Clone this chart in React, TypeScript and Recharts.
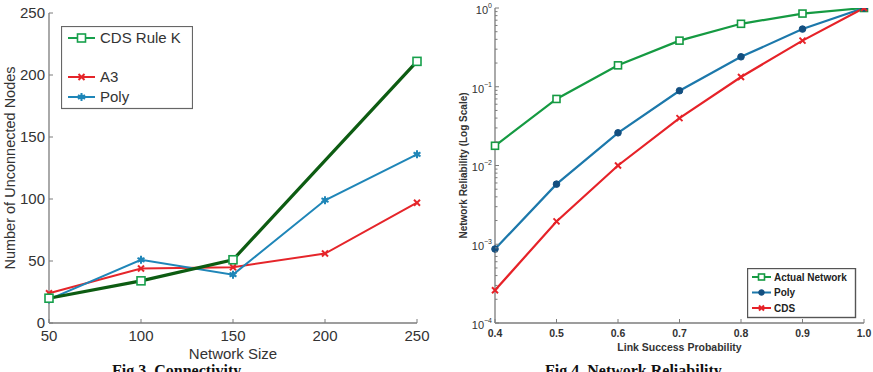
import React from 'react';
import { LineChart, Line, XAxis, YAxis, Legend } from 'recharts';

// ---- Fig 3: connectivity ----
const networkSizes = [50, 100, 150, 200, 250];
const cdsRuleK = [20, 34, 51, null, 211];
const a3 = [24, 44, 45, 56, 97];
const polyUnconnected = [19, 51, 39, 99, 136];
const sizeTicks = [50, 100, 150, 200, 250];
const nodeTicks = [0, 50, 100, 150, 200, 250];

// ---- Fig 4: network reliability ----
const linkProbabilities = [0.4, 0.5, 0.6, 0.7, 0.8, 0.9, 1.0];
const actualNetwork = [0.0178, 0.07, 0.187, 0.385, 0.63, 0.85, 1];
const polyReliability = [0.00087, 0.0058, 0.026, 0.089, 0.24, 0.54, 1];
const cdsReliability = [0.00026, 0.00195, 0.01, 0.04, 0.133, 0.385, 1];
const probTicks = [0.4, 0.5, 0.6, 0.7, 0.8, 0.9, 1.0];
const decadeTicks = [1e-4, 1e-3, 1e-2, 1e-1, 1];

const connectivityRows = networkSizes.map((size, i) => ({
  size,
  cds: cdsRuleK[i],
  a3: a3[i],
  poly: polyUnconnected[i],
}));

const reliabilityRows = linkProbabilities.map((p, i) => ({
  p,
  actual: actualNetwork[i],
  poly: polyReliability[i],
  cds: cdsReliability[i],
}));

const minorTicks = decadeTicks
  .filter((d) => d < 1)
  .flatMap((d) => [2, 3, 4, 5, 6, 7, 8, 9].map((m) => d * m));
const logTicks = [...decadeTicks, ...minorTicks].sort((a, b) => a - b);

const SANS = '"Liberation Sans", Arial, Helvetica, sans-serif';
const AXIS = '#7c7c7c';

const GREEN = '#17a04c';
const DARK_GREEN = '#0d5c12';
const RED = '#e5252a';
const BLUE = '#1f86b8';

const R_GREEN = '#159a42';
const R_BLUE = '#1c78ab';
const R_BLUE_DOT = '#134f80';
const R_RED = '#e62228';

// ---- markers ----
const squareMark = (cx: number, cy: number, color: string, s: number, key?: any) => (
  <rect key={key} x={cx - s / 2} y={cy - s / 2} width={s} height={s} fill="#fff" stroke={color} strokeWidth={1.6} />
);
const crossMark = (cx: number, cy: number, color: string, s: number, key?: any) => (
  <g key={key} stroke={color} strokeWidth={2}>
    <line x1={cx - s} y1={cy - s} x2={cx + s} y2={cy + s} />
    <line x1={cx - s} y1={cy + s} x2={cx + s} y2={cy - s} />
  </g>
);
const starMark = (cx: number, cy: number, color: string, s: number, key?: any) => (
  <g key={key} stroke={color} strokeWidth={2}>
    <circle cx={cx} cy={cy} r={s * 0.6} fill={color} stroke="none" />
    <line x1={cx} y1={cy - s} x2={cx} y2={cy + s} />
    <line x1={cx - s * 0.87} y1={cy - s / 2} x2={cx + s * 0.87} y2={cy + s / 2} />
    <line x1={cx - s * 0.87} y1={cy + s / 2} x2={cx + s * 0.87} y2={cy - s / 2} />
  </g>
);
const circleMark = (cx: number, cy: number, color: string, s: number, key?: any) => (
  <circle key={key} cx={cx} cy={cy} r={s} fill={color} stroke={color} />
);

const dotOf = (mark: any, color: string, s: number) => (props: any) => {
  const { cx, cy, index } = props;
  if (cx == null || cy == null || props.value == null) return <g key={`e-${index}`} />;
  return mark(cx, cy, color, s, `m-${index}`);
};

// ---- ticks (drawn inward, MATLAB style) ----
const fig3LeftTick = (props: any) => {
  const { x, y, payload } = props;
  return (
    <g>
      <line x1={x} x2={x + 4} y1={y} y2={y} stroke={AXIS} />
      <text x={x - 4} y={y} dy="0.36em" textAnchor="end" fontFamily={SANS} fontSize={15} fill="#333">
        {payload.value}
      </text>
    </g>
  );
};
const fig3BottomTick = (props: any) => {
  const { x, y, payload } = props;
  return (
    <g>
      <line x1={x} x2={x} y1={y} y2={y - 4} stroke={AXIS} />
      <text x={x} y={y + 13} dy="0.36em" textAnchor="middle" fontFamily={SANS} fontSize={15} fill="#333">
        {payload.value}
      </text>
    </g>
  );
};
const topTick = (props: any) => {
  const { x, y } = props;
  return <line x1={x} x2={x} y1={y} y2={y + 4} stroke={AXIS} />;
};
const rightTick = (props: any) => {
  const { x, y } = props;
  return <line x1={x} x2={x - 4} y1={y} y2={y} stroke={AXIS} />;
};

const isDecade = (v: number) => Math.abs(Math.log10(v) - Math.round(Math.log10(v))) < 1e-6;

const fig4LeftTick = (props: any) => {
  const { x, y, payload } = props;
  const v = payload.value as number;
  const major = isDecade(v);
  const exp = Math.round(Math.log10(v));
  return (
    <g>
      <line x1={x} x2={x + (major ? 4 : 2.5)} y1={y} y2={y} stroke={AXIS} />
      {major && (
        <text x={x - 3} y={y + 2} dy="0.36em" textAnchor="end" fontFamily={SANS} fontSize={11} fill="#333">
          <tspan>10</tspan>
          <tspan dy={-6} fontSize={7}>{exp === 0 ? '0' : `\u2212${Math.abs(exp)}`}</tspan>
        </text>
      )}
    </g>
  );
};
const fig4RightTick = (props: any) => {
  const { x, y, payload } = props;
  const major = isDecade(payload.value);
  return <line x1={x} x2={x - (major ? 4 : 2.5)} y1={y} y2={y} stroke={AXIS} />;
};
const fig4BottomTick = (props: any) => {
  const { x, y, payload } = props;
  return (
    <g>
      <line x1={x} x2={x} y1={y} y2={y - 4} stroke={AXIS} />
      <text x={x} y={y + 10} dy="0.36em" textAnchor="middle" fontFamily={SANS} fontSize={10.5} fontWeight="bold" fill="#333">
        {(payload.value as number).toFixed(1)}
      </text>
    </g>
  );
};

// ---- legends ----
const fig3Series = [
  { name: 'CDS Rule K', color: GREEN, mark: squareMark, s: 8, y: 12 },
  { name: 'A3', color: RED, mark: crossMark, s: 3, y: 51 },
  { name: 'Poly', color: BLUE, mark: starMark, s: 4, y: 71 },
];
const Fig3Legend = () => (
  <svg width={132} height={84} style={{ display: 'block' }}>
    <rect x={0.5} y={0.5} width={131} height={82} fill="#fff" stroke="#666" strokeWidth={1.2} />
    {fig3Series.map((s) => (
      <g key={s.name}>
        <line x1={7} x2={34} y1={s.y} y2={s.y} stroke={s.color} strokeWidth={2} />
        {s.mark(20.5, s.y, s.color, s.s)}
        <text x={39} y={s.y} dy="0.36em" fontFamily={SANS} fontSize={15} fill="#333">
          {s.name}
        </text>
      </g>
    ))}
  </svg>
);

const fig4Series = [
  { name: 'Actual Network', color: R_GREEN, mark: squareMark, s: 6, markColor: R_GREEN, y: 9 },
  { name: 'Poly', color: R_BLUE, mark: circleMark, s: 2.8, markColor: R_BLUE_DOT, y: 24.5 },
  { name: 'CDS', color: R_RED, mark: crossMark, s: 2.5, markColor: R_RED, y: 40 },
];
const Fig4Legend = () => (
  <svg width={110} height={51} style={{ display: 'block' }}>
    <rect x={0.5} y={0.5} width={108} height={49} fill="#fff" stroke="#555" strokeWidth={1.4} />
    {fig4Series.map((s) => (
      <g key={s.name}>
        <line x1={5} x2={24} y1={s.y} y2={s.y} stroke={s.color} strokeWidth={2} />
        {s.mark(14.5, s.y, s.markColor, s.s)}
        <text x={27} y={s.y} dy="0.36em" fontFamily={SANS} fontSize={10} fontWeight="bold" fill="#222">
          {s.name}
        </text>
      </g>
    ))}
  </svg>
);

const captionStyle: React.CSSProperties = {
  position: 'absolute',
  top: 363,
  fontFamily: '"Liberation Serif", "Times New Roman", serif',
  fontWeight: 'bold',
  fontSize: 16,
  lineHeight: '16px',
  whiteSpace: 'nowrap',
  color: '#111',
};

export default function App() {
  return (
    <div
      style={{
        position: 'absolute',
        left: 0,
        top: 0,
        width: 873,
        height: 372,
        overflow: 'hidden',
        background: '#fff',
      }}
    >
      {/* Fig 3: unconnected nodes versus network size */}
      <div style={{ position: 'absolute', left: 0, top: 0 }}>
        <LineChart width={440} height={372} data={connectivityRows} margin={{ top: 13, right: 23, bottom: 0, left: 0 }}>
          <XAxis
            dataKey="size"
            type="number"
            domain={[50, 250]}
            ticks={sizeTicks}
            interval={0}
            height={49}
            tickSize={0}
            tickMargin={0}
            tickLine={false}
            tick={fig3BottomTick}
            axisLine={{ stroke: AXIS, strokeWidth: 1.3 }}
            label={{ value: 'Network Size', position: 'insideBottom', offset: 13, fontFamily: SANS, fontSize: 15, fill: '#333' }}
          />
          <XAxis
            xAxisId="top"
            orientation="top"
            dataKey="size"
            type="number"
            domain={[50, 250]}
            ticks={sizeTicks}
            interval={0}
            height={0}
            tickSize={0}
            tickMargin={0}
            tickLine={false}
            tick={topTick}
            axisLine={{ stroke: AXIS, strokeWidth: 1.3 }}
          />
          <YAxis
            type="number"
            domain={[0, 250]}
            ticks={nodeTicks}
            interval={0}
            width={49}
            tickSize={0}
            tickMargin={0}
            tickLine={false}
            tick={fig3LeftTick}
            axisLine={{ stroke: AXIS, strokeWidth: 1.3 }}
            label={{
              value: 'Number of Unconnected Nodes',
              angle: -90,
              position: 'insideLeft',
              offset: 10,
              fontFamily: SANS,
              fontSize: 14.5,
              fill: '#333',
              style: { textAnchor: 'middle' },
            }}
          />
          <YAxis
            yAxisId="right"
            orientation="right"
            type="number"
            domain={[0, 250]}
            ticks={nodeTicks}
            interval={0}
            width={0}
            tickSize={0}
            tickMargin={0}
            tickLine={false}
            tick={rightTick}
            axisLine={{ stroke: AXIS, strokeWidth: 1.3 }}
          />
          <Legend
            layout="vertical"
            align="center"
            verticalAlign="middle"
            content={() => <Fig3Legend />}
            wrapperStyle={{ left: 61, top: 26, width: 'auto', height: 'auto' }}
          />
          <Line dataKey="a3" stroke={RED} strokeWidth={2} dot={dotOf(crossMark, RED, 3)} connectNulls isAnimationActive={false} />
          <Line dataKey="poly" stroke={BLUE} strokeWidth={2} dot={dotOf(starMark, BLUE, 4)} connectNulls isAnimationActive={false} />
          <Line dataKey="cds" stroke={DARK_GREEN} strokeWidth={3.2} dot={false} connectNulls isAnimationActive={false} />
          <Line dataKey="cds" stroke="none" dot={dotOf(squareMark, GREEN, 8)} connectNulls isAnimationActive={false} />
        </LineChart>
      </div>

      {/* Fig 4: network reliability versus link success probability */}
      <div style={{ position: 'absolute', left: 440, top: 0 }}>
        <LineChart width={433} height={372} data={reliabilityRows} margin={{ top: 8, right: 9, bottom: 0, left: 0 }}>
          <XAxis
            dataKey="p"
            type="number"
            domain={[0.4, 1]}
            ticks={probTicks}
            interval={0}
            height={49}
            tickSize={0}
            tickMargin={0}
            tickLine={false}
            tick={fig4BottomTick}
            axisLine={{ stroke: AXIS, strokeWidth: 1.3 }}
            label={{
              value: 'Link Success Probability',
              position: 'insideBottom',
              offset: 21,
              fontFamily: SANS,
              fontSize: 10.5,
              fontWeight: 'bold',
              fill: '#333',
            }}
          />
          <XAxis
            xAxisId="top"
            orientation="top"
            dataKey="p"
            type="number"
            domain={[0.4, 1]}
            ticks={probTicks}
            interval={0}
            height={0}
            tickSize={0}
            tickMargin={0}
            tickLine={false}
            tick={topTick}
            axisLine={{ stroke: '#666', strokeWidth: 1.5 }}
          />
          <YAxis
            type="number"
            scale="log"
            domain={[1e-4, 1]}
            allowDataOverflow
            ticks={logTicks}
            interval={0}
            width={55}
            tickSize={0}
            tickMargin={0}
            tickLine={false}
            tick={fig4LeftTick}
            axisLine={{ stroke: AXIS, strokeWidth: 1.3 }}
            label={{
              value: 'Network Reliability (Log Scale)',
              angle: -90,
              position: 'insideLeft',
              offset: 23,
              fontFamily: SANS,
              fontSize: 10,
              fontWeight: 'bold',
              fill: '#333',
              style: { textAnchor: 'middle' },
            }}
          />
          <YAxis
            yAxisId="right"
            orientation="right"
            type="number"
            scale="log"
            domain={[1e-4, 1]}
            allowDataOverflow
            ticks={logTicks}
            interval={0}
            width={0}
            tickSize={0}
            tickMargin={0}
            tickLine={false}
            tick={fig4RightTick}
            axisLine={{ stroke: AXIS, strokeWidth: 1.3 }}
          />
          <Legend
            layout="vertical"
            align="center"
            verticalAlign="middle"
            content={() => <Fig4Legend />}
            wrapperStyle={{ left: 307, top: 268, width: 'auto', height: 'auto' }}
          />
          <Line dataKey="actual" stroke={R_GREEN} strokeWidth={2.2} dot={dotOf(squareMark, R_GREEN, 7)} isAnimationActive={false} />
          <Line dataKey="poly" stroke={R_BLUE} strokeWidth={2.2} dot={dotOf(circleMark, R_BLUE_DOT, 3.3)} isAnimationActive={false} />
          <Line dataKey="cds" stroke={R_RED} strokeWidth={2.2} dot={dotOf(crossMark, R_RED, 3)} isAnimationActive={false} />
        </LineChart>
      </div>

      <div style={{ ...captionStyle, left: 112 }}>Fig 3. Connectivity</div>
      <div style={{ ...captionStyle, left: 545 }}>Fig 4. Network Reliability</div>
    </div>
  );
}
